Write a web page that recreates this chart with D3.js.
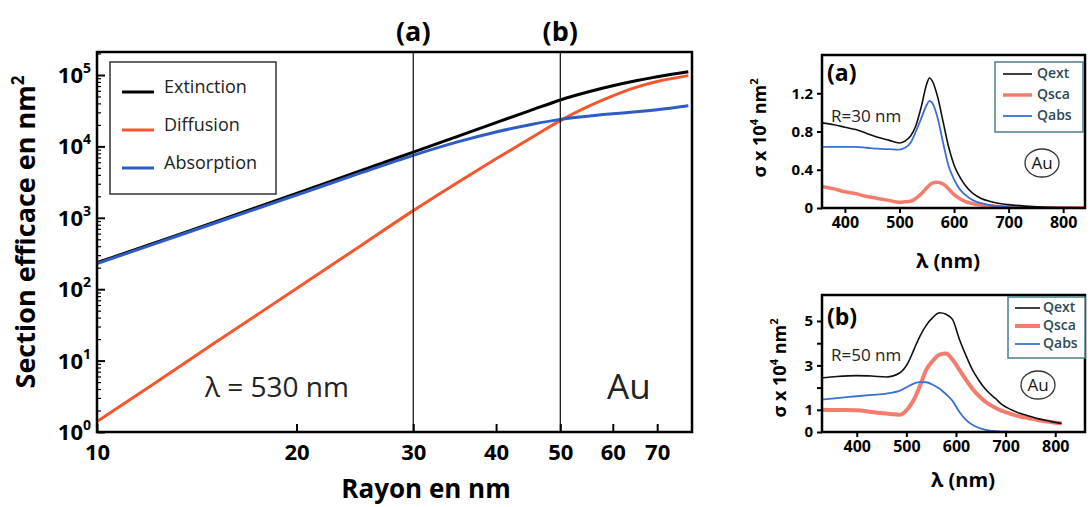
<!DOCTYPE html>
<html><head><meta charset="utf-8">
<script src="https://cdn.jsdelivr.net/npm/d3@7"></script>
<style>body{margin:0;background:#fff}svg{display:block;font-family:'Open Sans',sans-serif}</style>
</head><body><svg id="c" width="1090" height="507"></svg>
<script>
// ---- main chart data (radius in nm, cross section in nm^2) ----
const radius = [10,12,15,20,25,30,35,40,45,50,55,60,65,70,78];
const extinction = [235,421,859,2190,4570,8300,13800,21500,31700,44700,57700,70500,82800,94600,111000];
const absorption = [229,408,832,2080,4250,7500,11560,15900,20100,23900,26500,28600,30500,32700,37200];
const diffusion  = [1.4,4.3,17.3,102,407,1260,3130,6700,12900,23000,36000,51000,67000,81000,98000];
const mainSeries = ["Extinction","Diffusion","Absorption"];
const xTicksMain = [10,20,30,40,50,60,70];
const yTicksMain = [0,1,2,3,4,5];
const markRadii = [30,50];
const markLabels = ["(a)","(b)"];

// ---- panel (a): R = 30 nm ----
const lamA = [358,380,400,420,440,460,480,500,510,520,530,540,550,555,560,570,580,590,600,610,620,635,650,665,680,700,730,760,800,840];
const extA = [0.89,0.87,0.845,0.82,0.78,0.74,0.71,0.68,0.70,0.75,0.86,1.06,1.30,1.36,1.33,1.16,0.90,0.64,0.45,0.33,0.24,0.15,0.10,0.07,0.05,0.035,0.02,0.01,0.005,0.002];
const scaA = [0.226,0.20,0.17,0.15,0.12,0.10,0.08,0.06,0.065,0.07,0.10,0.15,0.21,0.24,0.26,0.27,0.25,0.20,0.14,0.10,0.07,0.045,0.03,0.02,0.015,0.01,0.005,0.003,0.001,0];
const absA = [0.64,0.64,0.64,0.64,0.63,0.62,0.615,0.61,0.63,0.68,0.80,0.94,1.08,1.12,1.10,0.94,0.68,0.44,0.30,0.20,0.14,0.08,0.05,0.03,0.02,0.01,0.005,0.002,0,0];
const yTicksA = [0,0.4,0.8,1.2];
const xTicksA = [400,500,600,700,800];

// ---- panel (b): R = 50 nm ----
const lamB = [330,360,400,430,460,487,503,515,527,540,553,567,580,593,607,620,633,647,660,680,693,710,727,747,767,790,813];
const extB = [2.44,2.50,2.54,2.52,2.48,2.67,3.10,3.70,4.30,4.80,5.15,5.37,5.30,5.07,4.17,3.45,2.81,2.30,1.91,1.50,1.23,1.02,0.86,0.72,0.59,0.48,0.38];
const scaB = [1.00,0.99,0.98,0.90,0.83,0.78,1.05,1.45,2.05,2.80,3.20,3.48,3.53,3.26,2.80,2.36,1.95,1.61,1.35,1.08,0.95,0.82,0.71,0.62,0.53,0.45,0.38];
const absB = [1.46,1.53,1.61,1.67,1.73,1.86,2.05,2.18,2.25,2.24,2.13,1.95,1.70,1.40,0.90,0.55,0.33,0.18,0.10,0.04,0.02,0.01,0,0,0,0,0];
const yTicksB = [0,1,2,3,4,5];
const yLabelsB = [0,1,3,5];
const xTicksB = [400,500,600,700,800];
const specSeries = ["Qext","Qsca","Qabs"];

const svg = d3.select('#c');

// ================= MAIN CHART =================
const M = {l:97, r:692, t:52, b:432};
const x = d3.scaleLog().domain([10, 79]).range([M.l, M.r]);
const y = d3.scaleLog().domain([1, Math.pow(10,5.322)]).range([M.b, M.t]);
const mainColor = {Extinction:"#000000", Diffusion:"#f2572d", Absorption:"#2f5cc4"};
const mainVals = {Extinction:extinction, Diffusion:diffusion, Absorption:absorption};

svg.append("clipPath").attr("id","clipM").append("rect")
  .attr("x",M.l).attr("y",M.t).attr("width",M.r-M.l).attr("height",M.b-M.t);

const line = d3.line().curve(d3.curveMonotoneX);
["Extinction","Diffusion","Absorption"].forEach(s=>{
  svg.append("path").attr("clip-path","url(#clipM)")
    .attr("d", line(radius.map((r,i)=>[x(r), y(mainVals[s][i])])))
    .attr("fill","none").attr("stroke",mainColor[s]).attr("stroke-width",3);
});

// vertical markers
markRadii.forEach((r,i)=>{
  svg.append("line").attr("x1",x(r)).attr("x2",x(r)).attr("y1",M.t).attr("y2",M.b)
    .attr("stroke","#1a1a1a").attr("stroke-width",1.3);
  svg.append("text").attr("x",x(r)).attr("y",41).attr("text-anchor","middle")
    .attr("font-weight","bold").attr("font-size",27).text(markLabels[i]);
});

// y axis ticks (inward)
const minor = [];
for (let e=0;e<=5;e++) for (let k=2;k<=9;k++){ const v=k*Math.pow(10,e); if (y(v)>M.t+1) minor.push(v); }
svg.append("g").attr("transform",`translate(${M.l},0)`)
  .call(d3.axisLeft(y).tickValues(minor).tickSize(-4).tickFormat(""))
  .call(g=>{g.select(".domain").remove(); g.selectAll("line").attr("stroke","#000").attr("stroke-width",1.2);});
svg.append("g").attr("transform",`translate(${M.l},0)`)
  .call(d3.axisLeft(y).tickValues(yTicksMain.map(e=>Math.pow(10,e))).tickSize(-8).tickFormat(""))
  .call(g=>{g.select(".domain").remove(); g.selectAll("line").attr("stroke","#000").attr("stroke-width",2);});
yTicksMain.forEach(e=>{
  const t = svg.append("text").attr("x",91).attr("y",y(Math.pow(10,e))+8).attr("text-anchor","end")
    .attr("font-weight","bold").attr("font-size",22);
  t.append("tspan").text("10");
  t.append("tspan").attr("font-size",14).attr("dy",-10).text(e);
});

// x axis ticks (inward)
svg.append("g").attr("transform",`translate(0,${M.b})`)
  .call(d3.axisBottom(x).tickValues(xTicksMain).tickSize(-8).tickPadding(12).tickFormat(d3.format("d")))
  .call(g=>{g.select(".domain").remove();
    g.selectAll("line").attr("stroke","#000").attr("stroke-width",2);
    g.selectAll("text").attr("font-size",22).attr("font-weight","bold").attr("fill","#000").attr("font-family","'Open Sans',sans-serif");});

// frame
svg.append("rect").attr("x",M.l).attr("y",M.t).attr("width",M.r-M.l).attr("height",M.b-M.t)
  .attr("fill","none").attr("stroke","#000").attr("stroke-width",2.5);

// axis titles
svg.append("text").attr("x",426).attr("y",498).attr("text-anchor","middle")
  .attr("font-weight","bold").attr("font-size",26).text("Rayon en nm");
const yt = svg.append("text").attr("transform","translate(35,232) rotate(-90)").attr("text-anchor","middle")
  .attr("font-weight","bold").attr("font-size",27);
yt.append("tspan").text("Section efficace en nm");
yt.append("tspan").attr("font-size",17).attr("dy",-11).text("2");

// annotations
svg.append("text").attr("x",205).attr("y",397).attr("font-size",28).attr("fill","#222").text("λ = 530 nm");
svg.append("text").attr("x",607).attr("y",399).attr("font-size",35).attr("fill","#222").text("Au");

// legend
svg.append("rect").attr("x",110).attr("y",62).attr("width",166).attr("height",132)
  .attr("fill","#fff").attr("stroke","#333").attr("stroke-width",1.5);
mainSeries.forEach((s,i)=>{
  const yy = 92 + i*38;
  svg.append("line").attr("x1",122).attr("x2",154).attr("y1",yy).attr("y2",yy)
    .attr("stroke",mainColor[s]).attr("stroke-width",3);
  svg.append("text").attr("x",164).attr("y",yy+1).attr("font-size",18).attr("fill","#222").text(s);
});

// ================= SPECTRA PANELS =================
function panel(o){
  const xs = d3.scaleLinear().domain(o.xdom).range([o.l,o.r]);
  const ys = d3.scaleLinear().domain(o.ydom).range([o.b,o.t]);
  const id = "clip"+o.name;
  svg.append("clipPath").attr("id",id).append("rect")
    .attr("x",o.l).attr("y",o.t).attr("width",o.r-o.l).attr("height",o.b-o.t);
  const ln = d3.line().curve(d3.curveMonotoneX);
  const sty = {Qext:["#111",1.6], Qsca:["#f47c6c",o.scaW], Qabs:["#3a6fd6",1.8]};
  const vals = {Qext:o.ext, Qsca:o.sca, Qabs:o.abs};
  ["Qsca","Qabs","Qext"].forEach(s=>{
    svg.append("path").attr("clip-path",`url(#${id})`)
      .attr("d", ln(o.lam.map((l,i)=>[xs(l), ys(vals[s][i])])))
      .attr("fill","none").attr("stroke",sty[s][0]).attr("stroke-width",sty[s][1]);
  });
  svg.append("g").attr("transform",`translate(${o.l},0)`)
    .call(d3.axisLeft(ys).tickValues(o.yt).tickSize(5).tickPadding(4)
      .tickFormat(d=> o.yl.includes(d) ? (d===0?"0":d3.format(o.yfmt)(d)) : ""))
    .call(g=>{g.select(".domain").remove();
      g.selectAll("line").attr("stroke","#000").attr("stroke-width",2);
      g.selectAll("text").attr("font-size",15).attr("font-weight","bold").attr("fill","#000").attr("font-family","'Open Sans',sans-serif");});
  svg.append("g").attr("transform",`translate(0,${o.b})`)
    .call(d3.axisBottom(xs).tickValues(o.xt).tickSize(5).tickPadding(4).tickFormat(d3.format("d")))
    .call(g=>{g.select(".domain").remove();
      g.selectAll("line").attr("stroke","#000").attr("stroke-width",2);
      g.selectAll("text").attr("font-size",16).attr("font-weight","bold").attr("fill","#000").attr("font-family","'Open Sans',sans-serif");});
  svg.append("rect").attr("x",o.l).attr("y",o.t).attr("width",o.r-o.l).attr("height",o.b-o.t)
    .attr("fill","none").attr("stroke","#000").attr("stroke-width",2.5);
  // labels
  svg.append("text").attr("x",o.l+5).attr("y",o.tagY).attr("font-weight","bold").attr("font-size",23).text(o.tag);
  svg.append("text").attr("x",o.l+9).attr("y",o.rY).attr("font-size",17).attr("fill","#222").text(o.rText);
  svg.append("text").attr("x",o.xtX).attr("y",o.xtY).attr("text-anchor","middle").attr("font-weight","bold").attr("font-size",20).text("λ (nm)");
  const yl = svg.append("text").attr("transform",`translate(${o.ytX},${o.ytY}) rotate(-90)`).attr("text-anchor","middle")
    .attr("font-weight","bold").attr("font-size",18);
  yl.append("tspan").text("σ x 10");
  yl.append("tspan").attr("font-size",11).attr("dy",-8).text("4");
  yl.append("tspan").attr("dy",8).text(" nm");
  yl.append("tspan").attr("font-size",11).attr("dy",-8).text("2");
  // Au circle
  svg.append("ellipse").attr("cx",o.auX).attr("cy",o.auY).attr("rx",17).attr("ry",14)
    .attr("fill","#fff").attr("stroke","#333").attr("stroke-width",1.3);
  svg.append("text").attr("x",o.auX).attr("y",o.auY+6).attr("text-anchor","middle").attr("font-size",17).attr("fill","#111").text("Au");
  // legend
  svg.append("rect").attr("x",o.lg.x).attr("y",o.lg.y).attr("width",o.lg.w).attr("height",o.lg.h)
    .attr("fill","#fff").attr("stroke","#4d7d8c").attr("stroke-width",1.5);
  specSeries.forEach((s,i)=>{
    const yy = o.lg.y0 + i*o.lg.dy;
    svg.append("line").attr("x1",o.lg.lx1).attr("x2",o.lg.lx2).attr("y1",yy).attr("y2",yy)
      .attr("stroke",sty[s][0]).attr("stroke-width",sty[s][1]);
    svg.append("text").attr("x",o.lg.tx).attr("y",yy+4).attr("font-size",14).attr("font-weight","600").attr("fill","#2d4a55").text(s);
  });
}

panel({name:"A", l:822, r:1085, t:55, b:208, xdom:[358,840], ydom:[0,1.6],
  lam:lamA, ext:extA, sca:scaA, abs:absA, yt:yTicksA, yl:yTicksA, yfmt:".1f", xt:xTicksA, scaW:3.5,
  tag:"(a)", tagY:81, rText:"R=30 nm", rY:122, xtX:948, xtY:268, ytX:766, ytY:128,
  auX:1042, auY:163,
  lg:{x:995,y:62,w:88,h:70,y0:74,dy:21,lx1:1003,lx2:1032,tx:1037}});

panel({name:"B", l:822, r:1085, t:295, b:432, xdom:[330,860], ydom:[0,6.17],
  lam:lamB, ext:extB, sca:scaB, abs:absB, yt:yTicksB, yl:yLabelsB, yfmt:"d", xt:xTicksB, scaW:4,
  tag:"(b)", tagY:325, rText:"R=50 nm", rY:361, xtX:963, xtY:487, ytX:786, ytY:368,
  auX:1038, auY:385,
  lg:{x:1008,y:297,w:77,h:61,y0:308,dy:18,lx1:1015,lx2:1040,tx:1043}});
</script></body></html>
